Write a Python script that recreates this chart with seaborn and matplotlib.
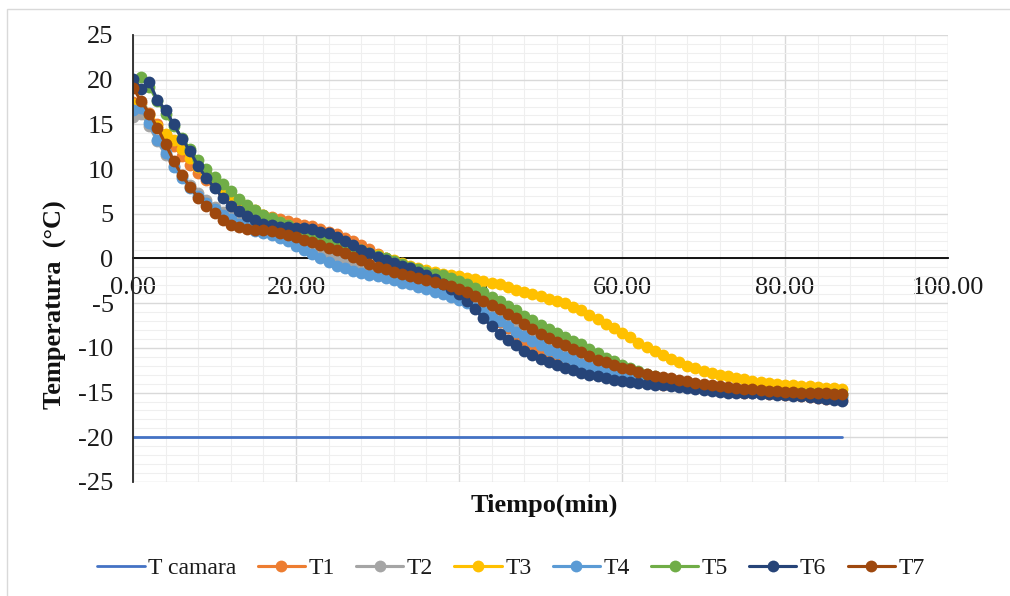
import matplotlib
matplotlib.use("Agg")
import matplotlib.pyplot as plt
import seaborn as sns
import numpy as np
from matplotlib.patches import Rectangle
from matplotlib.ticker import MultipleLocator, FormatStrFormatter

# -----------------------------
# Data (one reading per minute)
# -----------------------------
tiempo = list(range(0, 88))

t_camara = [-20.0] * len(tiempo)

t1 = [17.5, 17.4, 16.3, 15.0, 13.8, 12.6, 11.5, 10.5, 9.6, 8.8,
      8.1, 7.4, 6.8, 6.2, 5.7, 5.3, 4.9, 4.6, 4.4, 4.2,
      4.0, 3.8, 3.6, 3.3, 3.0, 2.7, 2.3, 1.9, 1.5, 1.1,
      0.5, 0.0, -0.5, -0.9, -1.3, -1.7, -2.1, -2.5, -2.9, -3.3,
      -3.8, -4.4, -5.0, -5.7, -6.4, -7.1, -7.8, -8.5, -9.1, -9.7,
      -10.2, -10.7, -11.1, -11.5, -11.9, -12.2, -12.5, -12.8, -13.0, -13.2,
      -13.4, -13.6, -13.7, -13.9, -14.0, -14.1, -14.2, -14.3, -14.4, -14.5,
      -14.6, -14.7, -14.8, -14.9, -14.9, -15.0, -15.1, -15.1, -15.2, -15.2,
      -15.3, -15.3, -15.4, -15.5, -15.6, -15.7, -15.7, -15.8]

t2 = [15.8, 16.2, 14.8, 13.1, 11.6, 10.3, 9.2, 8.2, 7.3, 6.5,
      5.8, 5.2, 4.7, 4.2, 3.8, 3.4, 3.1, 2.8, 2.5, 2.2,
      1.9, 1.6, 1.3, 1.0, 0.6, 0.2, -0.2, -0.5, -0.8, -1.1,
      -1.3, -1.6, -1.8, -2.1, -2.3, -2.6, -2.8, -3.1, -3.4, -3.7,
      -4.0, -4.4, -4.9, -5.4, -5.9, -6.5, -7.1, -7.7, -8.2, -8.7,
      -9.2, -9.7, -10.1, -10.5, -10.9, -11.3, -11.6, -11.9, -12.2, -12.5,
      -12.7, -12.9, -13.1, -13.3, -13.5, -13.7, -13.8, -14.0, -14.1, -14.2,
      -14.3, -14.4, -14.5, -14.6, -14.7, -14.7, -14.8, -14.9, -14.9, -15.0,
      -15.0, -15.1, -15.1, -15.2, -15.2, -15.3, -15.3, -15.4]

t3 = [17.3, 17.0, 16.0, 14.8, 13.9, 13.3, 12.3, 11.2, 10.2, 9.3,
      8.5, 7.8, 7.1, 6.5, 5.9, 5.4, 4.9, 4.5, 4.1, 3.7,
      3.3, 3.0, 2.7, 2.4, 2.1, 1.8, 1.5, 1.2, 0.9, 0.6,
      0.4, 0.1, -0.2, -0.5, -0.8, -1.1, -1.3, -1.5, -1.7, -1.9,
      -2.0, -2.2, -2.3, -2.5, -2.7, -2.9, -3.2, -3.5, -3.7, -4.0,
      -4.2, -4.5, -4.7, -5.0, -5.4, -5.8, -6.3, -6.8, -7.3, -7.8,
      -8.3, -8.8, -9.4, -9.9, -10.4, -10.8, -11.2, -11.6, -12.0, -12.3,
      -12.6, -12.8, -13.0, -13.2, -13.4, -13.5, -13.7, -13.8, -13.9, -14.0,
      -14.1, -14.2, -14.3, -14.3, -14.4, -14.5, -14.5, -14.6]

t4 = [16.6, 16.8, 15.1, 13.2, 11.8, 10.2, 9.0, 7.9, 7.0, 6.2,
      5.5, 4.9, 4.4, 3.9, 3.5, 3.1, 2.8, 2.6, 2.3, 1.9,
      1.4, 0.9, 0.5, 0.1, -0.4, -0.8, -1.1, -1.4, -1.6, -1.8,
      -2.0, -2.2, -2.4, -2.7, -2.9, -3.2, -3.4, -3.7, -4.0, -4.3,
      -4.6, -5.0, -5.5, -6.0, -6.5, -7.0, -7.6, -8.2, -8.7, -9.2,
      -9.7, -10.2, -10.6, -11.0, -11.4, -11.8, -12.1, -12.4, -12.7, -12.9,
      -13.1, -13.3, -13.5, -13.7, -13.8, -14.0, -14.1, -14.2, -14.3, -14.4,
      -14.5, -14.6, -14.7, -14.8, -14.8, -14.9, -15.0, -15.0, -15.1, -15.1,
      -15.2, -15.2, -15.3, -15.3, -15.4, -15.4, -15.5, -15.5]

t5 = [19.6, 20.3, 19.2, 17.6, 16.2, 14.8, 13.5, 12.2, 11.0, 10.0,
      9.1, 8.3, 7.6, 6.7, 6.0, 5.4, 4.9, 4.5, 4.1, 3.7,
      3.3, 3.0, 2.7, 2.4, 2.1, 1.8, 1.5, 1.2, 0.9, 0.6,
      0.3, 0.0, -0.3, -0.6, -0.9, -1.2, -1.5, -1.7, -1.9, -2.2,
      -2.5, -2.9, -3.3, -3.8, -4.3, -4.8, -5.3, -5.8, -6.4, -6.9,
      -7.4, -7.9, -8.3, -8.8, -9.2, -9.6, -10.1, -10.6, -11.1, -11.5,
      -11.9, -12.3, -12.6, -12.9, -13.2, -13.4, -13.6, -13.8, -13.9, -14.1,
      -14.2, -14.3, -14.4, -14.5, -14.6, -14.7, -14.7, -14.8, -14.9, -14.9,
      -15.0, -15.0, -15.1, -15.1, -15.1, -15.2, -15.2, -15.2]

t6 = [20.1, 19.0, 19.7, 17.7, 16.6, 15.0, 13.4, 12.0, 10.3, 9.0,
      7.9, 6.8, 5.9, 5.3, 4.8, 4.3, 3.9, 3.7, 3.5, 3.5,
      3.4, 3.4, 3.3, 3.0, 2.8, 2.4, 2.0, 1.5, 1.0, 0.6,
      0.2, -0.2, -0.5, -0.8, -1.1, -1.5, -1.9, -2.3, -2.8, -3.4,
      -4.0, -4.8, -5.7, -6.7, -7.6, -8.4, -9.1, -9.7, -10.3, -10.8,
      -11.2, -11.6, -11.9, -12.2, -12.5, -12.8, -13.0, -13.2, -13.4, -13.6,
      -13.7, -13.8, -13.9, -14.0, -14.1, -14.2, -14.3, -14.4, -14.5, -14.6,
      -14.7, -14.8, -14.9, -15.0, -15.0, -15.1, -15.1, -15.2, -15.2, -15.3,
      -15.3, -15.4, -15.4, -15.5, -15.6, -15.7, -15.8, -15.9]

t7 = [19.1, 17.6, 16.2, 14.6, 12.8, 10.9, 9.3, 8.0, 6.8, 5.9,
      5.1, 4.3, 3.8, 3.5, 3.3, 3.2, 3.2, 3.1, 2.9, 2.6,
      2.4, 2.1, 1.8, 1.5, 1.2, 0.9, 0.6, 0.2, -0.2, -0.6,
      -0.9, -1.2, -1.5, -1.7, -2.0, -2.2, -2.4, -2.6, -2.8, -3.1,
      -3.4, -3.8, -4.2, -4.7, -5.2, -5.7, -6.2, -6.7, -7.3, -7.9,
      -8.4, -8.9, -9.3, -9.7, -10.1, -10.5, -10.9, -11.3, -11.6, -11.9,
      -12.2, -12.4, -12.7, -12.9, -13.1, -13.3, -13.4, -13.6, -13.7, -13.9,
      -14.0, -14.2, -14.3, -14.4, -14.5, -14.6, -14.6, -14.7, -14.8, -14.8,
      -14.9, -14.9, -15.0, -15.0, -15.1, -15.1, -15.2, -15.2]

series_names = ["T1", "T2", "T3", "T4", "T5", "T6", "T7"]
series_vals = [t1, t2, t3, t4, t5, t6, t7]
series_colors = ["#ED7D31", "#A5A5A5", "#FFC000", "#5B9BD5",
                 "#70AD47", "#264478", "#9E480E"]

# -----------------------------
# Plot
# -----------------------------
sns.set_style("white")
plt.rcParams["font.family"] = ["Liberation Serif", "DejaVu Serif"]
plt.rcParams["axes.unicode_minus"] = False

fig = plt.figure(figsize=(10.1, 5.96), dpi=100)
ax = fig.add_axes([0.1317, 0.1913, 0.807, 0.75])

# outer chart border
fig.patches.append(Rectangle((7 / 1010, -0.05), 1.2, 1 - 9 / 596 + 0.05,
                             transform=fig.transFigure, fill=False,
                             edgecolor="#D9D9D9", linewidth=1.0))

sns.lineplot(x=tiempo, y=t_camara, ax=ax, color="#4472C4",
             linewidth=2.0, label="T camara")

for name, vals, c in zip(series_names, series_vals, series_colors):
    sns.lineplot(x=tiempo, y=vals, ax=ax, color=c, linewidth=2.25,
                 marker="o", markersize=8.5, markeredgewidth=0, label=name)

if ax.get_legend() is not None:
    ax.get_legend().remove()

ax.set_xlim(0, 100)
ax.set_ylim(-25, 25)
ax.xaxis.set_major_locator(MultipleLocator(20))
ax.xaxis.set_minor_locator(MultipleLocator(4))
ax.yaxis.set_major_locator(MultipleLocator(5))
ax.yaxis.set_minor_locator(MultipleLocator(1))
ax.xaxis.set_major_formatter(FormatStrFormatter("%.2f"))

ax.grid(which="major", color="#D9D9D9", linewidth=1.0)
ax.grid(which="minor", color="#EFEFEF", linewidth=0.75)
ax.set_axisbelow(True)

for s in ["top", "right"]:
    ax.spines[s].set_visible(False)
ax.spines["bottom"].set_position(("data", 0))
ax.spines["bottom"].set_color("black")
ax.spines["bottom"].set_linewidth(1.3)
ax.spines["bottom"].set_zorder(1.5)
ax.spines["left"].set_color("#262626")
ax.spines["left"].set_linewidth(1.3)

ax.tick_params(axis="both", which="both", length=0, labelsize=19,
               labelcolor="#1a1a1a")
ax.tick_params(axis="x", pad=13)
ax.tick_params(axis="y", pad=14)

ax.set_xlabel("")
ax.set_ylabel("")
fig.text(544 / 1010, 1 - 505 / 596, "Tiempo(min)", ha="center", va="center",
         fontsize=19, fontweight="bold", color="#111111")
fig.text(55 / 1010, 1 - 305 / 596, "Temperatura  (\u00b0C)", ha="center",
         va="center", rotation=90, fontsize=19, fontweight="bold",
         color="#111111")

handles, labels = ax.get_legend_handles_labels()
fig.legend(handles, labels, loc="center", ncol=8, frameon=False,
           bbox_to_anchor=(511 / 1010, 1 - 568 / 596), fontsize=17,
           handlelength=2.0, handletextpad=0.15, columnspacing=0.9,
           labelcolor="#1a1a1a")

plt.savefig("out.png", dpi=100)
